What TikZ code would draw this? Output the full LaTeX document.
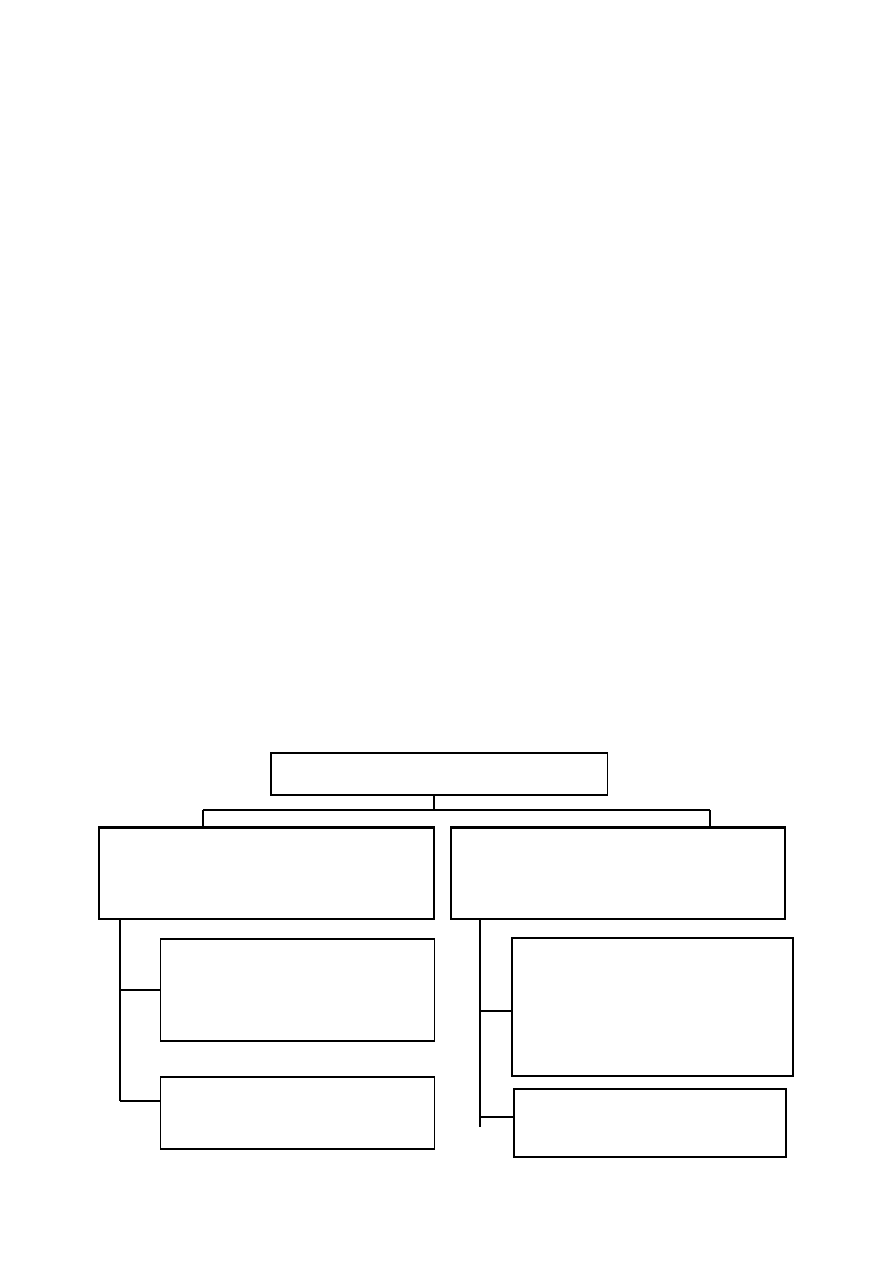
\documentclass[tikz,border=0pt]{standalone}
\usepackage{tikz}
\usetikzlibrary{positioning}

\begin{document}
\begin{tikzpicture}[x=0.0235cm, y=-0.0235cm, line width=0.8pt,
  box/.style={draw, rectangle, inner sep=0pt}]
\useasboundingbox (0,0) rectangle (893,1263);
\node[box, minimum width=7.90cm, minimum height=0.99cm] (top) at (439,774) {};
\node[box, minimum width=7.87cm, minimum height=2.14cm] (L1) at (266.5,873.5) {};
\node[box, minimum width=7.85cm, minimum height=2.14cm] (R1) at (618,873.5) {};
\node[box, minimum width=6.42cm, minimum height=2.40cm] (L2) at (297.5,990) {};
\node[box, minimum width=6.42cm, minimum height=1.69cm] (L3) at (297.5,1113) {};
\node[box, minimum width=6.60cm, minimum height=3.24cm] (R2) at (652.5,1007) {};
\node[box, minimum width=6.39cm, minimum height=1.60cm] (R3) at (650,1123) {};
% heavier top edge on the two middle boxes
\draw[line width=1.6pt] (L1.north west) -- (L1.north east);
\draw[line width=1.6pt] (R1.north west) -- (R1.north east);
% bus under the top box
\coordinate (hub) at (434,810);
\coordinate (busL) at (203,810);
\coordinate (busR) at (710,810);
\draw (hub |- top.south) -- (hub);
\draw (busL) -- (busR);
\draw (busL) -- (busL |- L1.north);
\draw (busR) -- (busR |- R1.north);
% left branch
\coordinate (trunkL) at (120,1101);
\draw (trunkL |- L1.south) -- (trunkL);
\draw (trunkL |- L2.west) -- (L2.west);
\draw (trunkL) -- (trunkL -| L3.west);
% right branch
\coordinate (trunkR) at (480,1127);
\coordinate (jR2) at (480,1011);
\coordinate (jR3) at (480,1117);
\draw (trunkR |- R1.south) -- (trunkR);
\draw (jR2) -- (jR2 -| R2.west);
\draw (jR3) -- (jR3 -| R3.west);
\end{tikzpicture}
\end{document}
